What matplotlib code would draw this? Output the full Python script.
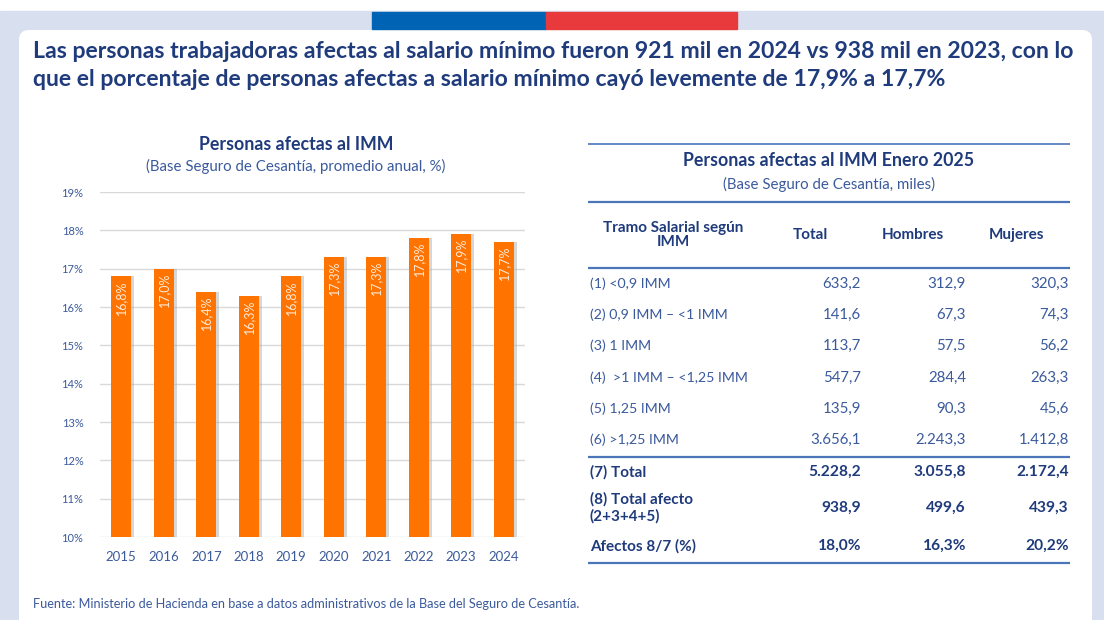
import matplotlib
matplotlib.use("Agg")
import matplotlib.pyplot as plt
from matplotlib.patches import FancyBboxPatch, Rectangle

# --- data ---
years = ["2015", "2016", "2017", "2018", "2019", "2020", "2021", "2022", "2023", "2024"]
pct = [16.8, 17.0, 16.4, 16.3, 16.8, 17.3, 17.3, 17.8, 17.9, 17.7]
pct_labels = ["16,8%", "17,0%", "16,4%", "16,3%", "16,8%", "17,3%", "17,3%", "17,8%", "17,9%", "17,7%"]

col_headers = ["Tramo Salarial según\nIMM", "Total", "Hombres", "Mujeres"]
tramos = ["(1) <0,9 IMM", "(2) 0,9 IMM – <1 IMM", "(3) 1 IMM", "(4)  >1 IMM – <1,25 IMM",
          "(5) 1,25 IMM", "(6) >1,25 IMM"]
total = ["633,2", "141,6", "113,7", "547,7", "135,9", "3.656,1"]
hombres = ["312,9", "67,3", "57,5", "284,4", "90,3", "2.243,3"]
mujeres = ["320,3", "74,3", "56,2", "263,3", "45,6", "1.412,8"]
summary_rows = ["(7) Total", "(8) Total afecto\n(2+3+4+5)", "Afectos 8/7 (%)"]
summary_total = ["5.228,2", "938,9", "18,0%"]
summary_hombres = ["3.055,8", "499,6", "16,3%"]
summary_mujeres = ["2.172,4", "439,3", "20,2%"]

NAVY = "#1f3b7c"
BODY = "#3b5a9c"
ORANGE = "#ff7300"
LINE = "#4a76b8"
plt.rcParams["font.family"] = ["Lato", "DejaVu Sans"]

W, H = 1104, 620
fig = plt.figure(figsize=(W / 100, H / 100), dpi=100)
fig.patch.set_facecolor("white")

# --- background / card (pixel coordinates) ---
bg = fig.add_axes([0, 0, 1, 1], zorder=0)
bg.set_xlim(0, W)
bg.set_ylim(H, 0)
bg.axis("off")
bg.add_patch(Rectangle((0, 11), W, H, color="#d8e0f0"))
bg.add_patch(FancyBboxPatch((19, 30), 1073, 600, boxstyle="round,pad=0,rounding_size=10",
                            fc="white", ec="none"))
bg.add_patch(Rectangle((372, 12), 174, 17, color="#0063b4"))
bg.add_patch(Rectangle((546, 12), 191, 17, color="#e8393d"))

bg.text(33, 52, "Las personas trabajadoras afectas al salario mínimo fueron 921 mil en 2024 vs 938 mil en 2023, con lo",
        fontsize=16.6, fontweight="bold", color=NAVY, va="center", ha="left")
bg.text(33, 80, "que el porcentaje de personas afectas a salario mínimo cayó levemente de 17,9% a 17,7%",
        fontsize=16.6, fontweight="bold", color=NAVY, va="center", ha="left")

# chart titles
bg.text(296, 145, "Personas afectas al IMM", fontsize=12.8, fontweight="bold", color=NAVY, ha="center", va="center")
bg.text(296, 166, "(Base Seguro de Cesantía, promedio anual, %)", fontsize=10.8, color=BODY, ha="center", va="center")

bg.text(33, 604, "Fuente: Ministerio de Hacienda en base a datos administrativos de la Base del Seguro de Cesantía.",
        fontsize=9.2, color=BODY, ha="left", va="center")

# --- table ---
tx0, tx1 = 588, 1070
for y, lw in [(144, 1.2), (202, 1.6), (268, 1.6), (457, 1.6), (563, 1.6)]:
    bg.plot([tx0, tx1], [y, y], color=LINE, lw=lw, solid_capstyle="butt")
bg.text(829, 161, "Personas afectas al IMM Enero 2025", fontsize=12.8, fontweight="bold", color=NAVY,
        ha="center", va="center")
bg.text(829, 184, "(Base Seguro de Cesantía, miles)", fontsize=10.8, color=BODY, ha="center", va="center")

head_x = [673, 810, 913, 1017]
for hx, h in zip(head_x, col_headers):
    bg.text(hx, 235, h, fontsize=11, fontweight="bold", color=NAVY, ha="center", va="center",
            linespacing=1.05)

col_right = [861, 966, 1069]
row_y = [284, 315, 346, 378, 409, 440]
for i, y in enumerate(row_y):
    bg.text(590, y, tramos[i], fontsize=10.2, color=BODY, ha="left", va="center")
    for cx, vals in zip(col_right, [total, hombres, mujeres]):
        bg.text(cx, y, vals[i], fontsize=10.8, color=BODY, ha="right", va="center")

sum_y = [472, 508, 546]
for i, y in enumerate(sum_y):
    bg.text(590, y, summary_rows[i], fontsize=11, fontweight="bold", color=NAVY, ha="left", va="center",
            linespacing=1.25)
    for cx, vals in zip(col_right, [summary_total, summary_hombres, summary_mujeres]):
        bg.text(cx, y, vals[i], fontsize=11.2, fontweight="bold", color=NAVY, ha="right", va="center")

# --- bar chart ---
ax = fig.add_axes([100 / W, 1 - 537 / H, 425 / W, 345 / H], zorder=1)
ax.patch.set_alpha(0)
x = list(range(len(years)))
ax.bar([xi + 0.06 for xi in x], [p - 10 for p in pct], bottom=10, width=0.48, color="#b0b0b0",
       alpha=0.5, zorder=2)
ax.bar(x, [p - 10 for p in pct], bottom=10, width=0.48, color=ORANGE, zorder=3)
for xi, p, lab in zip(x, pct, pct_labels):
    ax.text(xi, p - 0.1, lab, rotation=90, ha="center", va="top", fontsize=9, color="#ffe9d6", zorder=4)
ax.set_ylim(10, 19)
ax.set_xlim(-0.5, len(years) - 0.5)
ax.set_yticks(range(10, 20))
ax.set_yticklabels([f"{v}%" for v in range(10, 20)])
ax.set_xticks(x)
ax.set_xticklabels(years)
ax.grid(axis="y", color="#d9d9d9", lw=1, zorder=0)
for s in ax.spines.values():
    s.set_visible(False)
ax.tick_params(axis="y", length=0, labelsize=8, labelcolor=BODY, pad=12)
ax.tick_params(axis="x", length=0, labelsize=9.5, labelcolor=BODY, pad=10)

fig.savefig("out.png", dpi=100)
